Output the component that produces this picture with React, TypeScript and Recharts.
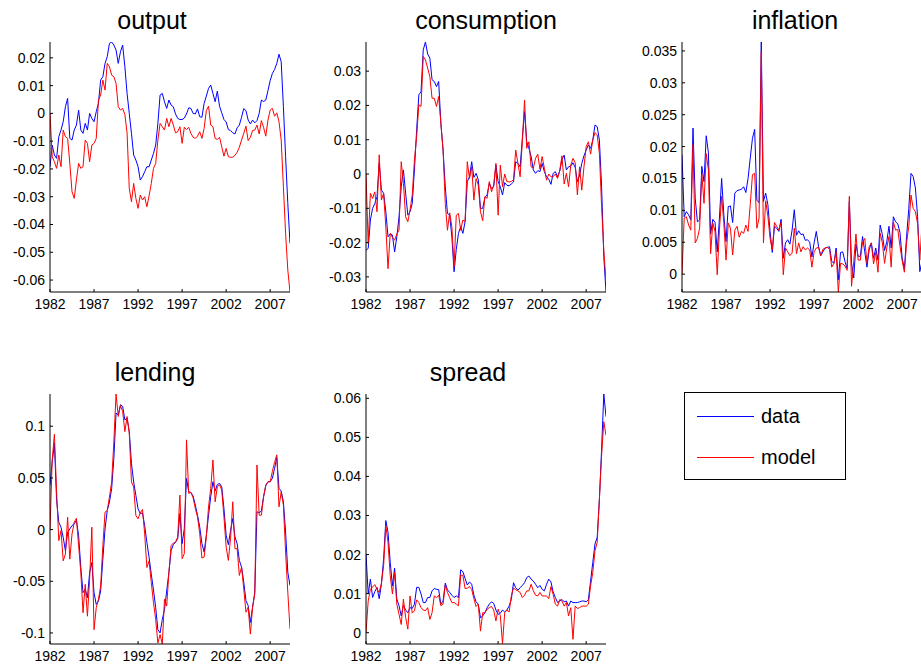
import { LineChart, Line, XAxis, YAxis } from 'recharts'

// quarterly samples, 1982Q1 .. 2009Q2
const quarters = Array.from({ length: 110 }, (_, i) => 1982 + i / 4)
const yearTicks = [1982, 1987, 1992, 1997, 2002, 2007]

const outputData = [
  -0.0192, -0.0114, -0.015, -0.0162, -0.0084, -0.006, -0.003, 0.0024, 0.0054, -0.009,
  -0.0096, -0.006, -0.0042, 0.0012, -0.006, -0.0072, -0.0036, -0.006, 0, -0.0018,
  -0.003, 0.0006, 0.0036, 0.012, 0.0132, 0.018, 0.0204, 0.0252, 0.0257, 0.0246,
  0.0228, 0.018, 0.0222, 0.0246, 0.0168, 0.0072, 0, -0.0072, -0.015, -0.0168,
  -0.0192, -0.024, -0.0228, -0.021, -0.0192, -0.0192, -0.0168, -0.0144, -0.0114, -0.0036,
  0.0066, 0.0072, 0.0042, 0.0018, 0.0048, 0.003, 0.0024, -0.0002, -0.0018, -0.0022,
  -0.0022, -0.0017, -0.0002, 0.002, 0.0018, 0, -0.0002, 0.0016, -0.0012, -0.0014,
  0.0036, 0.0062, 0.009, 0.0102, 0.0072, 0.0042, 0.008, 0.0026, 0.0002, -0.0022,
  -0.0031, -0.0058, -0.0062, -0.007, -0.0074, -0.0052, -0.0042, -0.0014, 0.0017, 0.001,
  -0.0024, -0.0038, -0.0024, -0.0034, -0.0026, 0, 0.0048, 0.0043, 0.0048, 0.0082,
  0.0118, 0.0144, 0.0158, 0.018, 0.0213, 0.0186, 0.0024, -0.0156, -0.0324, -0.0468,
]
const outputModel = [
  0, -0.0156, -0.0174, -0.0198, -0.015, -0.0192, -0.006, -0.0084, -0.009, -0.018,
  -0.0282, -0.0306, -0.024, -0.018, -0.0198, -0.0192, -0.0096, -0.0108, -0.0174, -0.0114,
  -0.0108, -0.009, 0.0048, 0.0066, 0.012, 0.0084, 0.018, 0.0168, 0.0138, 0.0132,
  0.0108, 0.0024, 0.0012, 0.0018, -0.0004, -0.007, -0.027, -0.0318, -0.0252, -0.0306,
  -0.0342, -0.0294, -0.0312, -0.03, -0.0336, -0.0297, -0.0252, -0.0198, -0.018, -0.0096,
  -0.0036, -0.0048, -0.006, -0.0018, -0.0048, -0.0018, -0.0042, -0.007, -0.0066, -0.0048,
  -0.0108, -0.005, -0.0058, -0.005, -0.0072, -0.0086, -0.009, -0.0082, -0.0066, -0.009,
  -0.0054, 0.001, 0.0026, -0.0042, -0.0048, -0.009, -0.0094, -0.0086, -0.012, -0.0154,
  -0.0126, -0.0156, -0.0158, -0.0158, -0.0151, -0.014, -0.0122, -0.0096, -0.0072, -0.0046,
  -0.0098, -0.0086, -0.0062, -0.006, -0.0042, -0.0074, -0.0026, -0.005, -0.0082, -0.0024,
  0.0012, 0.0018, -0.001, 0.0002, -0.003, -0.0096, -0.0264, -0.0432, -0.0564, -0.0643,
]

const consData = [
  -0.0222, -0.0217, -0.0134, -0.01, -0.0086, -0.0066, 0.0031, -0.0047, -0.0056, -0.011,
  -0.0183, -0.0175, -0.0178, -0.0227, -0.0183, -0.0125, -0.0037, 0.0012, -0.0056, -0.012,
  -0.011, -0.0086, 0.0012, 0.0129, 0.0231, 0.024, 0.0362, 0.0385, 0.035, 0.0338,
  0.0275, 0.027, 0.0255, 0.027, 0.0148, 0.007, -0.0037, -0.0115, -0.012, -0.0183,
  -0.0285, -0.022, -0.0173, -0.0154, -0.0173, -0.0139, -0.0022, -0.0008, 0.0036, -0.001,
  0.0002, -0.0016, -0.01, -0.01, -0.0068, -0.0061, -0.0027, -0.0042, -0.0037, 0.0026,
  -0.0022, -0.0037, -0.0061, -0.0025, -0.0033, -0.0034, -0.0029, -0.0023, 0.0036, 0.0031,
  0.0021, 0.0104, 0.0182, 0.0094, 0.0075, 0.0051, 0.0012, 0.0002, 0.001, 0.0007,
  0.0031, 0.0007, -0.0008, -0.0015, -0.003, 0.0002, 0.0007, -0.0008, 0.0009, 0.0043,
  0.0055, 0.0012, 0.0021, 0.0023, 0.0033, 0.0019, -0.0022, -0.0003, 0.0031, 0.0053,
  0.007, 0.0085, 0.0075, 0.0099, 0.0143, 0.0138, 0.0099, -0.0037, -0.0241, -0.0344,
]
const consModel = [
  0, -0.0203, -0.0056, -0.0071, -0.0052, -0.011, 0.0056, -0.0076, -0.0056, -0.0154,
  -0.0276, -0.0173, -0.0185, -0.0193, -0.0175, -0.0164, 0.0036, -0.0027, -0.0125, -0.0139,
  -0.0105, -0.0061, 0.0041, 0.0109, 0.0202, 0.0197, 0.0343, 0.0333, 0.0309, 0.0284,
  0.0221, 0.0221, 0.0197, 0.0226, 0.0148, 0.007, -0.0086, -0.0164, -0.0113, -0.0154,
  -0.027, -0.012, -0.0115, -0.0164, -0.0134, -0.0139, 0.0036, -0.0013, 0.0021, -0.0076,
  -0.0013, -0.0032, -0.011, -0.0136, -0.0066, -0.0071, -0.0022, -0.0052, -0.0032, 0.0031,
  -0.012, 0.0026, -0.0037, 0, -0.0022, -0.0023, -0.0022, -0.0016, 0.007, 0.0031,
  -0.0008, 0.0094, 0.0216, 0.0075, 0.0094, 0.0021, 0.0017, 0.0046, 0.0058, 0.0014,
  0.0051, 0.0017, -0.0018, 0, -0.0008, -0.0008, 0, -0.0013, 0.001, 0.0053,
  -0.0029, 0.0002, -0.0037, 0.0026, 0.0046, 0.0033, -0.0061, 0.0021, -0.0047, 0.0021,
  0.008, 0.0094, 0.0058, 0.0099, 0.0121, 0.0114, 0.006, -0.0095, -0.0222, -0.0314,
]

const inflData = [
  0.0187, 0.009, 0.0098, 0.0093, 0.0085, 0.0229, 0.0119, 0.0082, 0.0085, 0.0169,
  0.0145, 0.0217, 0.019, 0.0063, 0.0086, 0.0081, 0.0035, 0.0088, 0.015, 0.0093,
  0.0051, 0.0106, 0.0107, 0.0081, 0.0127, 0.0131, 0.0132, 0.0133, 0.0137, 0.0128,
  0.015, 0.0182, 0.0213, 0.0227, 0.0116, 0.0112, 0.0364, 0.0114, 0.0127, 0.0109,
  0.0067, 0.0034, 0.0075, 0.0072, 0.0067, 0.0086, 0.0025, 0.0049, 0.0054, 0.0047,
  0.0069, 0.0101, 0.0061, 0.0068, 0.0062, 0.0063, 0.0053, 0.0054, 0.005, 0.0027,
  0.0049, 0.0067, 0.0044, 0.0029, 0.0035, 0.0041, 0.0042, 0.0043, 0.002, 0.0017,
  0.0041, -0.0009, 0.0034, 0.0035, 0.002, 0.0009, 0.0114, 0.0017, -0.0006, 0.0047,
  0.0028, 0.0028, 0.0059, 0.0035, 0.0011, 0.0038, 0.0049, 0.0025, 0.0041, 0.0022,
  0.0077, 0.0062, 0.0037, 0.0051, 0.0075, 0.0041, 0.009, 0.0082, 0.0079, 0.0065,
  0.0025, 0.0008, 0.0059, 0.0103, 0.0158, 0.0153, 0.0135, 0.009, 0.0004, 0.002,
]
const inflModel = [
  0, 0.0088, 0.009, 0.0077, 0.0069, 0.0203, 0.0049, 0.0056, 0.0072, 0.0157,
  0.0111, 0.0189, 0.0163, 0.0032, 0.008, 0.0067, -0.0001, 0.0069, 0.0122, 0.008,
  0.0022, 0.008, 0.0072, 0.003, 0.0069, 0.0075, 0.0058, 0.0067, 0.0064, 0.0077,
  0.0067, 0.0109, 0.0156, 0.0158, 0.0072, 0.0088, 0.0349, 0.0049, 0.0115, 0.0091,
  0.0056, 0.0038, 0.0081, 0.0075, 0.0069, 0.0081, -0.0001, 0.0041, 0.0035, 0.0029,
  0.0033, 0.0072, 0.0032, 0.0049, 0.0035, 0.0043, 0.0038, 0.0041, 0.0038, 0.0011,
  0.0035, 0.0041, 0.0042, 0.0029, 0.0039, 0.0041, 0.0042, 0.0039, 0.0011, 0.0017,
  0.0035, -0.0028, 0.0017, 0.0016, 0.0013, 0.0006, 0.0122, -0.0019, 0.002, 0.0063,
  0.0022, 0.0022, 0.005, 0.0056, 0.0017, 0.0043, 0.0049, 0.0016, 0.0034, 0.0003,
  0.0064, 0.0049, 0.0017, 0.0041, 0.0059, 0.0011, 0.0082, 0.0069, 0.007, 0.0044,
  0.0021, 0.0003, 0.0049, 0.0075, 0.0124, 0.0103, 0.0098, 0.0079, 0.0022, 0.0077,
]

const lendData = [
  0.0429, 0.0656, 0.0834, 0.0282, 0.0071, 0.0023, -0.0075, -0.0205, -0.0026, 0.0006,
  0.0039, 0.0055, 0.0088, -0.0058, -0.0367, -0.061, -0.0578, -0.0659, -0.0416, -0.0318,
  -0.061, -0.0724, -0.0692, -0.0594, -0.0286, 0.0006, 0.0185, 0.0266, 0.0396, 0.0688,
  0.1127, 0.111, 0.1208, 0.1192, 0.1062, 0.1078, 0.0948, 0.064, 0.0461, 0.0331,
  0.0201, 0.0153, 0.0162, 0.0039, -0.0123, -0.0269, -0.0432, -0.0584, -0.0756, -0.0968,
  -0.1, -0.087, -0.0773, -0.0594, -0.0416, -0.0205, -0.0146, -0.0123, -0.0088, 0.0156,
  -0.0136, 0.001, 0.0496, 0.0366, 0.036, 0.0324, 0.0237, 0.0139, 0.0026, -0.0136,
  -0.0217, -0.0055, 0.0139, 0.0318, 0.0463, 0.0373, 0.0437, 0.0447, 0.0415, 0.0204,
  -0.0055, -0.0146, -0.001, 0.0107, -0.0071, -0.0136, -0.0298, -0.0363, -0.0509, -0.0687,
  -0.0736, -0.0898, -0.0752, -0.0606, 0.0172, 0.0165, 0.0178, 0.0318, 0.0424, 0.0463,
  0.0463, 0.0496, 0.0593, 0.0697, 0.0399, 0.0373, 0.0269, -0.0023, -0.0412, -0.0541,
]
const lendModel = [
  0, 0.0672, 0.0922, 0.0364, -0.0107, -0.001, -0.0302, -0.0237, 0.012, -0.0286,
  -0.0042, 0.0071, 0.011, -0.0156, -0.0416, -0.0805, -0.0529, -0.0838, -0.048, 0.0023,
  -0.0968, -0.0756, -0.0675, -0.0545, -0.0156, 0.0169, 0.0185, 0.0315, 0.0461, 0.0851,
  0.1312, 0.1094, 0.1201, 0.1143, 0.0948, 0.1094, 0.0932, 0.0461, 0.0412, 0.0136,
  0.0104, 0.0162, 0.0195, -0.0042, -0.0367, -0.0302, -0.0513, -0.0708, -0.087, -0.1097,
  -0.1016, -0.1107, -0.0675, -0.074, -0.0416, -0.0156, -0.013, -0.0123, -0.0071, 0.0334,
  -0.0282, -0.0233, 0.0868, 0.035, 0.036, 0.0308, 0.0204, 0.0123, -0.0039, -0.0275,
  -0.0266, -0.0071, 0.022, 0.0399, 0.0674, 0.0269, 0.0415, 0.0434, 0.0382, 0.0123,
  -0.0168, -0.0298, -0.0087, 0.0269, -0.0185, -0.0185, -0.0444, -0.0363, -0.0574, -0.08,
  -0.0752, -0.1011, -0.0752, -0.0622, 0.0625, 0.0139, 0.0139, 0.0318, 0.0431, 0.0463,
  0.0463, 0.0564, 0.0651, 0.0723, 0.022, 0.0366, 0.0237, -0.0217, -0.0606, -0.0962,
]

const spreadData = [
  0.0201, 0.0099, 0.0137, 0.009, 0.0105, 0.0116, 0.0087, 0.0124, 0.0189, 0.0287,
  0.0257, 0.018, 0.012, 0.0165, 0.0086, 0.0069, 0.0043, 0.007, 0.0058, 0.0051,
  0.0064, 0.0062, 0.0073, 0.0116, 0.0116, 0.0099, 0.0077, 0.0077, 0.009, 0.009,
  0.0107, 0.0113, 0.0111, 0.011, 0.0073, 0.0081, 0.0127, 0.011, 0.0103, 0.0096,
  0.009, 0.0094, 0.009, 0.0161, 0.0156, 0.0139, 0.0122, 0.013, 0.0124, 0.0096,
  0.0079, 0.0073, 0.0038, 0.0043, 0.0051, 0.0064, 0.0073, 0.0079, 0.0075, 0.0058,
  0.0047, 0.005, 0.0058, 0.0053, 0.0058, 0.0068, 0.0085, 0.0128, 0.0115, 0.0109,
  0.0115, 0.0121, 0.0128, 0.0141, 0.0145, 0.0137, 0.0132, 0.0124, 0.0115, 0.0121,
  0.0111, 0.0107, 0.0124, 0.0137, 0.013, 0.0104, 0.009, 0.0077, 0.0081, 0.0085,
  0.0079, 0.0081, 0.0068, 0.0081, 0.0077, 0.0077, 0.0077, 0.0079, 0.0081, 0.0081,
  0.0079, 0.0085, 0.0132, 0.018, 0.0227, 0.0244, 0.0342, 0.047, 0.0611, 0.0553,
]
const spreadModel = [
  0, 0.0081, 0.0111, 0.0117, 0.0123, 0.0111, 0.0103, 0.0127, 0.0171, 0.0274,
  0.0231, 0.0146, 0.0099, 0.0154, 0.0073, 0.0047, 0.0021, 0.0086, 0.0039, 0.0009,
  0.0094, 0.005, 0.0056, 0.0084, 0.0077, 0.0064, 0.0058, 0.0056, 0.0064, 0.0034,
  0.0051, 0.0094, 0.009, 0.0096, 0.0069, 0.0073, 0.0122, 0.0103, 0.009, 0.0077,
  0.0077, 0.0073, 0.0069, 0.0147, 0.0147, 0.0113, 0.0114, 0.0118, 0.0111, 0.0087,
  0.0067, 0.0073, 0.0004, 0.0051, 0.0051, 0.006, 0.0064, 0.0067, 0.0058, 0.003,
  0.006, 0.0044, -0.0028, 0.0051, 0.0058, 0.0053, 0.0094, 0.0115, 0.0109, 0.0107,
  0.0103, 0.009, 0.0096, 0.0107, 0.0107, 0.0124, 0.0107, 0.0096, 0.0094, 0.0103,
  0.0094, 0.0094, 0.0094, 0.0087, 0.0118, 0.0098, 0.0073, 0.0068, 0.0085, 0.0081,
  0.0068, 0.0077, 0.0043, 0.0064, -0.0017, 0.0068, 0.0062, 0.0064, 0.0068, 0.0068,
  0.0068, 0.0073, 0.012, 0.0154, 0.021, 0.0231, 0.0342, 0.0454, 0.054, 0.0505,
]

const FONT = '"Liberation Sans", Arial, Helvetica, sans-serif'
const PW = 240
const PH = 250

type PanelProps = {
  title: string
  data: number[]
  model: number[]
  domain: [number, number]
  yTicks: number[]
  left: number
  top: number
  titleX: number
}

function Panel({ title, data, model, domain, yTicks, left, top, titleX }: PanelProps) {
  const rows = quarters.map((q, i) => ({ q, data: data[i], model: model[i] }))
  const axisStroke = { stroke: '#000', strokeWidth: 1 }
  return (
    <>
      <div
        style={{
          position: 'absolute',
          left: titleX,
          top: top - 34,
          transform: 'translateX(-50%)',
          fontFamily: FONT,
          fontSize: 25,
          lineHeight: '25px',
          whiteSpace: 'nowrap',
          color: '#000',
        }}
      >
        {title}
      </div>
      <div style={{ position: 'absolute', left: left - 60, top: top - 5 }}>
        <LineChart
          width={60 + PW}
          height={5 + PH + 30}
          data={rows}
          margin={{ top: 5, right: 0, bottom: 0, left: 0 }}
        >
          <XAxis
            dataKey="q"
            type="number"
            domain={[1982, 2009.25]}
            ticks={yearTicks}
            allowDataOverflow
            height={30}
            tickSize={-3}
            tickMargin={10}
            axisLine={axisStroke}
            tickLine={axisStroke}
            tick={{ fill: '#000', fontSize: 14, fontFamily: FONT }}
            interval={0}
          />
          <XAxis
            xAxisId="top"
            orientation="top"
            dataKey="q"
            type="number"
            domain={[1982, 2009.25]}
            ticks={yearTicks}
            allowDataOverflow
            height={0}
            tickSize={-3}
            axisLine={axisStroke}
            tickLine={axisStroke}
            tick={false}
          />
          <YAxis
            type="number"
            domain={domain}
            ticks={yTicks}
            allowDataOverflow
            width={60}
            tickSize={-3}
            tickMargin={8}
            interval={0}
            axisLine={axisStroke}
            tickLine={axisStroke}
            tickFormatter={(v: number) => String(v)}
            tick={{ fill: '#000', fontSize: 14, fontFamily: FONT }}
          />
          <YAxis
            yAxisId="right"
            orientation="right"
            type="number"
            domain={domain}
            ticks={yTicks}
            allowDataOverflow
            width={0}
            tickSize={-3}
            interval={0}
            axisLine={axisStroke}
            tickLine={axisStroke}
            tick={false}
          />
          <Line
            dataKey="data"
            stroke="#0000ff"
            strokeWidth={1}
            dot={false}
            activeDot={false}
            isAnimationActive={false}
          />
          <Line
            dataKey="model"
            stroke="#ff0000"
            strokeWidth={1}
            dot={false}
            activeDot={false}
            isAnimationActive={false}
          />
        </LineChart>
      </div>
    </>
  )
}

export default function App() {
  return (
    <div
      style={{
        position: 'absolute',
        left: 0,
        top: 0,
        width: 921,
        height: 667,
        overflow: 'hidden',
        background: '#fff',
      }}
    >
      <Panel
        title="output"
        data={outputData}
        model={outputModel}
        domain={[-0.0643, 0.0257]}
        yTicks={[-0.06, -0.05, -0.04, -0.03, -0.02, -0.01, 0, 0.01, 0.02]}
        left={50}
        top={42}
        titleX={152}
      />
      <Panel
        title="consumption"
        data={consData}
        model={consModel}
        domain={[-0.0344, 0.0385]}
        yTicks={[-0.03, -0.02, -0.01, 0, 0.01, 0.02, 0.03]}
        left={366}
        top={42}
        titleX={486}
      />
      <Panel
        title="inflation"
        data={inflData}
        model={inflModel}
        domain={[-0.0028, 0.0364]}
        yTicks={[0, 0.005, 0.01, 0.015, 0.02, 0.025, 0.03, 0.035]}
        left={682}
        top={42}
        titleX={795}
      />
      <Panel
        title="lending"
        data={lendData}
        model={lendModel}
        domain={[-0.1107, 0.1312]}
        yTicks={[-0.1, -0.05, 0, 0.05, 0.1]}
        left={50}
        top={394}
        titleX={155}
      />
      <Panel
        title="spread"
        data={spreadData}
        model={spreadModel}
        domain={[-0.0029, 0.0611]}
        yTicks={[0, 0.01, 0.02, 0.03, 0.04, 0.05, 0.06]}
        left={366}
        top={394}
        titleX={468}
      />
      <div
        style={{
          position: 'absolute',
          left: 684,
          top: 392,
          width: 162,
          height: 88,
          boxSizing: 'border-box',
          border: '1px solid #000',
          background: '#fff',
          fontFamily: FONT,
          fontSize: 20,
        }}
      >
        {[
          { name: 'data', color: '#0000ff', y: 23 },
          { name: 'model', color: '#ff0000', y: 64 },
        ].map((s) => (
          <div key={s.name}>
            <div
              style={{
                position: 'absolute',
                left: 12,
                top: s.y,
                width: 57,
                height: 1,
                background: s.color,
              }}
            />
            <div style={{ position: 'absolute', left: 76, top: s.y - 12, lineHeight: '24px' }}>
              {s.name}
            </div>
          </div>
        ))}
      </div>
    </div>
  )
}
